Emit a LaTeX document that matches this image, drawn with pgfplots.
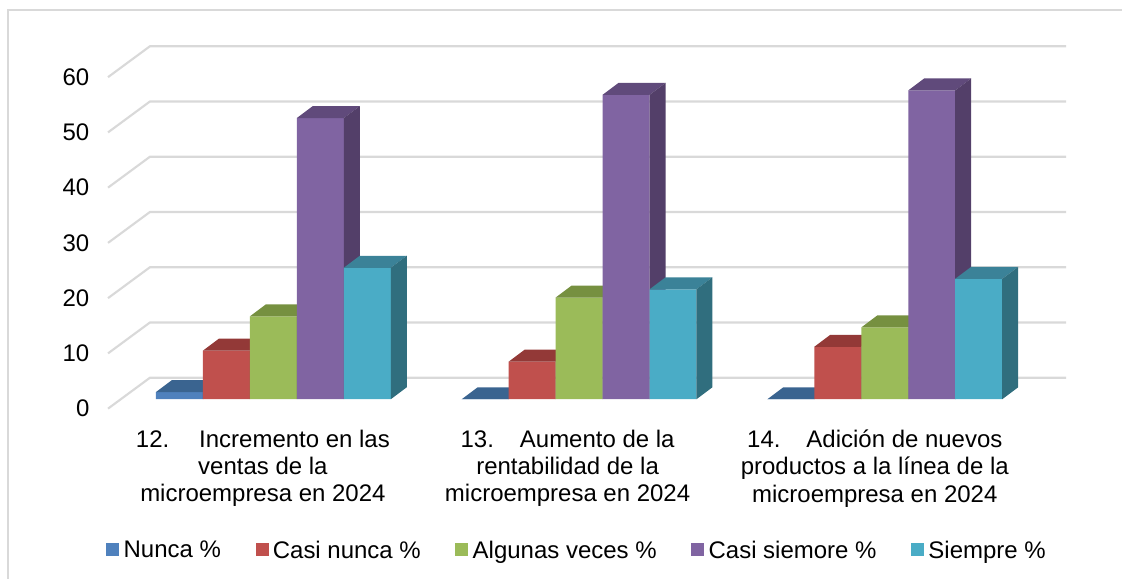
\documentclass[border=0pt]{standalone}
\usepackage{pgfplots}
\pgfplotsset{compat=1.18}
\usepackage{fontspec}
\setmainfont{Liberation Sans}
\definecolor{cA}{HTML}{4F81BD}\definecolor{cAt}{HTML}{3A6490}\definecolor{cAs}{HTML}{2F5478}
\definecolor{cB}{HTML}{C0504D}\definecolor{cBt}{HTML}{933937}\definecolor{cBs}{HTML}{7C2F2D}
\definecolor{cC}{HTML}{9BBB59}\definecolor{cCt}{HTML}{769040}\definecolor{cCs}{HTML}{637A36}
\definecolor{cD}{HTML}{8064A2}\definecolor{cDt}{HTML}{604A7B}\definecolor{cDs}{HTML}{533F69}
\definecolor{cE}{HTML}{4AACC6}\definecolor{cEt}{HTML}{3B8298}\definecolor{cEs}{HTML}{306E7E}
\definecolor{gridc}{HTML}{D9D9D9}
\newcommand\faces[4]{%
 \pgfmathsetmacro\xr{#1+23.5}\pgfmathsetmacro\xl{#1-23.5}%
 \pgfmathsetmacro\xlb{#1-7.5}\pgfmathsetmacro\xrb{#1+39.5}%
 \pgfmathsetmacro\yb{#2+2.17}\pgfmathsetmacro\yz{2.17}%
 \edef\tmp{%
  \noexpand\addplot[forget plot,fill=#3,draw=none] coordinates {(\xl,#2)(\xlb,\yb)(\xrb,\yb)(\xr,#2)};
  \noexpand\addplot[forget plot,fill=#4,draw=none] coordinates {(\xr,0)(\xrb,\yz)(\xrb,\yb)(\xr,#2)};
 }\tmp}
\newcommand\gline[1]{%
 \pgfmathsetmacro\ya{#1-1.7}\pgfmathsetmacro\yb{#1+3.9}%
 \edef\tmp{\noexpand\addplot[forget plot,gridc,line width=1.6pt,line join=round] coordinates {(108,\ya)(150,\yb)(1067,\yb)};}\tmp}
\begin{document}
\begin{tikzpicture}
\begin{axis}[
 scale only axis, width=842.25pt, height=434.25pt,
 xmin=0, xmax=1123, ymin=-32.46, ymax=72.24,
 clip=false, axis line style={draw=none}, major tick length=0pt,
 ytick={0,10,20,30,40,50,60},
 xtick={263,568,875.5},
 xticklabels={{12.\hspace{22.5pt}Incremento en las\\ventas de la\\microempresa en 2024},
  {13.\hspace{19.5pt}Aumento de la\\rentabilidad de la\\microempresa en 2024},
  {14.\hspace{19.5pt}Adición de nuevos\\productos a la línea de la\\microempresa en 2024}},
 /pgf/number format/assume math mode=true,
 ticklabel style={font=\fontsize{18}{20.4}\selectfont},
 xticklabel style={align=center,anchor=north,yshift=115pt},
 yticklabel style={anchor=east,xshift=70.5pt,yshift=-7pt},
 legend style={at={(axis cs:106,-27.4)},anchor=west,draw=none,fill=none,
   legend columns=5,font=\fontsize{18}{20}\selectfont,inner sep=0pt,
   /tikz/every odd column/.append style={column sep=1.25pt},
   /tikz/every even column/.append style={column sep=24pt}},
 legend cell align=left,
 legend image code/.code={\fill[#1] (0pt,-4.2pt) rectangle (9.75pt,5.55pt);},
 bar shift=0pt, bar width=35.25pt,
]
% chart frame
\addplot[forget plot,gridc,line width=1.4pt] coordinates {(8,-32.46)(8,70.4)(1123,70.4)};
\gline{0}\gline{10}\gline{20}\gline{30}\gline{40}\gline{50}\gline{60}
% Nunca
\addplot[ybar,fill=cA,draw=none] coordinates {(179.5,1.3)(485.5,0)(791.5,0)};
\addlegendentry{Nunca \%}
\faces{179.5}{1.3}{cAt}{cAs}\faces{485.5}{0}{cAt}{cAs}\faces{791.5}{0}{cAt}{cAs}
% Casi nunca
\addplot[ybar,fill=cB,draw=none] coordinates {(226.5,8.8)(532.5,6.8)(838.5,9.5)};
\addlegendentry{Casi nunca \%}
\faces{226.5}{8.8}{cBt}{cBs}\faces{532.5}{6.8}{cBt}{cBs}\faces{838.5}{9.5}{cBt}{cBs}
% Algunas veces
\addplot[ybar,fill=cC,draw=none] coordinates {(273.5,15)(579.5,18.4)(885.5,13)};
\addlegendentry{Algunas veces \%}
\faces{273.5}{15}{cCt}{cCs}\faces{579.5}{18.4}{cCt}{cCs}\faces{885.5}{13}{cCt}{cCs}
% Casi siemore
\addplot[ybar,fill=cD,draw=none] coordinates {(320.5,50.9)(626.5,55.1)(932.5,55.9)};
\addlegendentry{Casi siemore \%}
\faces{320.5}{50.9}{cDt}{cDs}\faces{626.5}{55.1}{cDt}{cDs}\faces{932.5}{55.9}{cDt}{cDs}
% Siempre
\addplot[ybar,fill=cE,draw=none] coordinates {(367.5,23.8)(673.5,19.9)(979.5,21.8)};
\addlegendentry{Siempre \%}
\faces{367.5}{23.8}{cEt}{cEs}\faces{673.5}{19.9}{cEt}{cEs}\faces{979.5}{21.8}{cEt}{cEs}
\end{axis}
\end{tikzpicture}
\end{document}
